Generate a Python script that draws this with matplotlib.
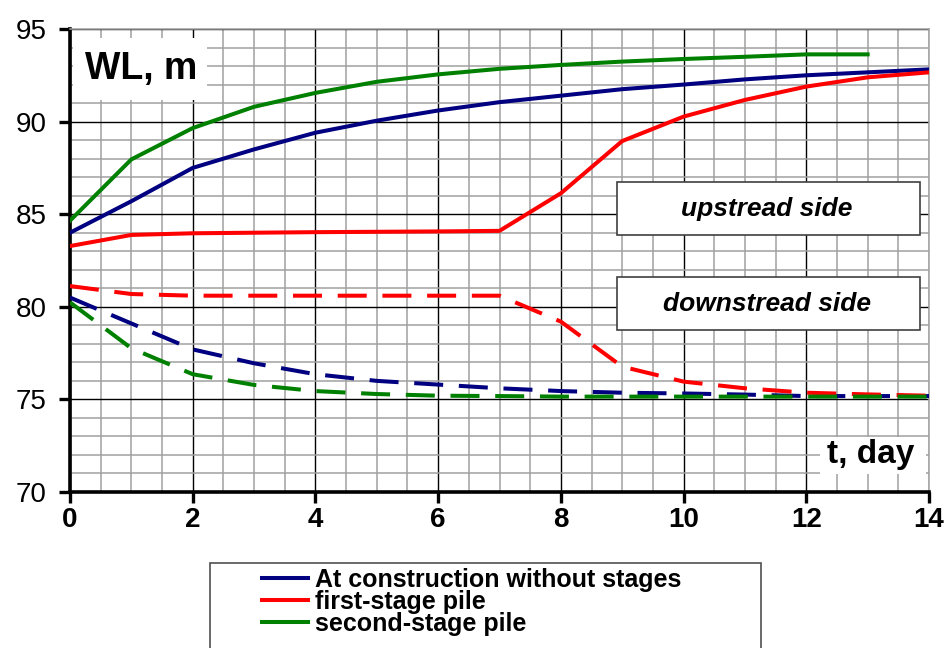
import matplotlib.pyplot as plt
from matplotlib.patches import Rectangle
from matplotlib.lines import Line2D
from matplotlib.ticker import MultipleLocator

plt.rcParams['font.family'] = ['Liberation Sans', 'DejaVu Sans']

days = list(range(15))

# upstream side (solid)
up_no_stages = [84.0, 85.7, 87.5, 88.5, 89.4, 90.05, 90.6, 91.05, 91.4, 91.75, 92.0, 92.28, 92.5, 92.66, 92.82]
up_first = [83.28, 83.88, 83.97, 84.0, 84.03, 84.05, 84.07, 84.1, 86.13, 88.95, 90.27, 91.17, 91.89, 92.39, 92.66]
up_second = [84.65, 87.96, 89.65, 90.8, 91.55, 92.15, 92.55, 92.85, 93.06, 93.24, 93.38, 93.5, 93.63, 93.63]

# downstream side (dashed)
down_no_stages = [80.5, 79.1, 77.7, 76.95, 76.36, 76.0, 75.8, 75.6, 75.45, 75.36, 75.32, 75.26, 75.18, 75.18, 75.18]
down_first = [81.12, 80.69, 80.6, 80.6, 80.6, 80.6, 80.6, 80.6, 79.2, 76.77, 75.96, 75.6, 75.36, 75.27, 75.2]
down_second = [80.24, 77.76, 76.36, 75.78, 75.45, 75.29, 75.2, 75.18, 75.15, 75.15, 75.15, 75.15, 75.15, 75.15, 75.15]

labels = ['At construction without stages', 'first-stage pile', 'second-stage pile']
colors = ['#000080', '#ff0000', '#008000']

fig = plt.figure(figsize=(9.46, 6.48), dpi=100)
ax = fig.add_axes([70 / 946, 1 - 492 / 648, 859 / 946, 463 / 648])

lw = 2.9
dash = (7.2, 3.9)
ax.plot(days, up_no_stages, color=colors[0], lw=lw, zorder=4)
ax.plot(days, up_first, color=colors[1], lw=lw, zorder=4)
ax.plot(days[:len(up_second)], up_second, color=colors[2], lw=lw, zorder=4)
ax.plot(days, down_no_stages, color=colors[0], lw=lw, dashes=dash, zorder=4)
ax.plot(days, down_first, color=colors[1], lw=lw, dashes=dash, zorder=4)
ax.plot(days, down_second, color=colors[2], lw=lw, dashes=dash, zorder=4)

ax.set_xlim(0, 14)
ax.set_ylim(70, 95)
ax.xaxis.set_major_locator(MultipleLocator(2))
ax.xaxis.set_minor_locator(MultipleLocator(0.5))
ax.yaxis.set_major_locator(MultipleLocator(5))
ax.yaxis.set_minor_locator(MultipleLocator(1))

ax.set_axisbelow(True)
ax.grid(which='minor', color='#a0a0a0', lw=1.1)
ax.grid(which='major', color='black', lw=1.0)

for s in ['left', 'bottom']:
    ax.spines[s].set_linewidth(2.6)
    ax.spines[s].set_color('black')
for s in ['top', 'right']:
    ax.spines[s].set_linewidth(1.1)
    ax.spines[s].set_color('#a0a0a0')

ax.tick_params(which='minor', length=0)
ax.tick_params(which='major', direction='out', length=8, width=2.4, color='black')
ax.tick_params(axis='y', labelsize=20, pad=9)
ax.tick_params(axis='x', labelsize=20, pad=3)
for t in ax.get_xticklabels():
    t.set_fontweight('bold')

# axis captions inside the plot
ax.add_patch(Rectangle((0.004, 0.847), 0.155, 0.133, transform=ax.transAxes,
                       facecolor='white', edgecolor='none', zorder=3))
ax.text(0.0827, 0.892, 'WL, m', transform=ax.transAxes, ha='center', va='baseline',
        fontsize=27, fontweight='bold', zorder=5)
ax.add_patch(Rectangle((0.873, 0.039), 0.123, 0.08, transform=ax.transAxes,
                       facecolor='white', edgecolor='none', zorder=3))
ax.text(0.932, 0.0626, 't, day', transform=ax.transAxes, ha='center', va='baseline',
        fontsize=24, fontweight='bold', zorder=5)

# side boxes
for y0, txt in [(0.555, 'upstread side'), (0.35, 'downstread side')]:
    ax.add_patch(Rectangle((0.637, y0), 0.3525, 0.1145, transform=ax.transAxes,
                           facecolor='white', edgecolor='#404040', lw=1.2, zorder=3))
    ax.text(0.8114, y0 + 0.057, txt, transform=ax.transAxes, ha='center', va='center',
            fontsize=19, fontweight='bold', style='italic', zorder=5)

# legend below the plot
fig.patches.append(Rectangle((210 / 946, -0.05), 551 / 946, 0.05 + 1 - 563 / 648,
                             transform=fig.transFigure, facecolor='white',
                             edgecolor='#505050', lw=1.2))
handles = [Line2D([], [], color=c, lw=lw) for c in colors]
fig.legend(handles, labels, loc='upper left', bbox_to_anchor=(262 / 946, 1 - 568 / 648),
           frameon=False, borderpad=0, borderaxespad=0, handlelength=1.85,
           handletextpad=0.25, labelspacing=-0.08,
           prop={'size': 18, 'weight': 'bold'})

fig.savefig('out.png', dpi=100)
